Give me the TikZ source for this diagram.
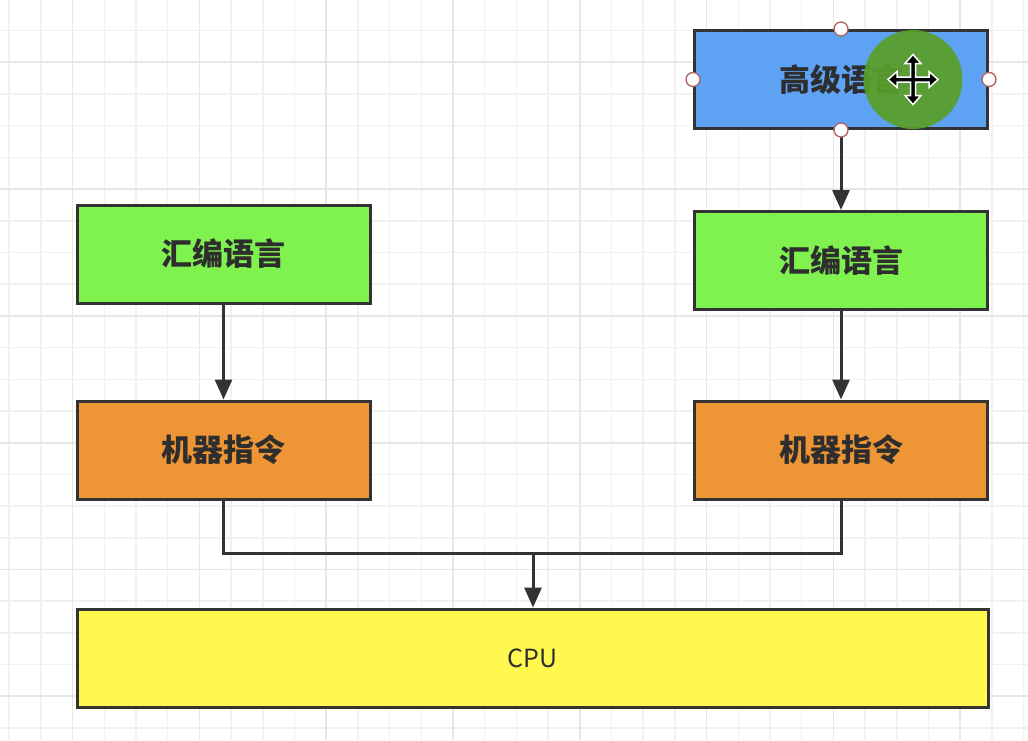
\documentclass[tikz,border=0pt]{standalone}
\usepackage{fontspec}
\newfontfamily\cjk{Noto Sans CJK SC}
\usetikzlibrary{arrows.meta}
\definecolor{gridminor}{HTML}{F1F1F1}
\definecolor{gridmajor}{HTML}{E7E7E7}
\definecolor{boxline}{HTML}{333333}
\definecolor{hlblue}{HTML}{5EA2F4}
\definecolor{asmgreen}{HTML}{80F24F}
\definecolor{mcorange}{HTML}{EE9536}
\definecolor{cpuyellow}{HTML}{FFF84E}
\definecolor{txt}{HTML}{2E2E2E}
\definecolor{handle}{HTML}{B06060}
\definecolor{ptrgreen}{HTML}{5A9E28}
\tikzset{
  box/.style={draw=boxline, line width=3pt, minimum width=293pt, minimum height=98pt,
    inner sep=0pt, font=\cjk\bfseries\fontsize{31}{36}\selectfont, text=txt},
  conn/.style={draw=boxline, line width=3pt},
  arr/.style={conn, -{Triangle[length=20pt,width=17pt]}},
  hdl/.style={circle, draw=handle, fill=white, line width=1.3pt, minimum size=14pt, inner sep=0pt},
}
\begin{document}
\begin{tikzpicture}[x=1pt,y=-1pt]
\useasboundingbox (0,0) rectangle (1028,740);
\fill[white] (0,0) rectangle (1028,740);
% grid
\foreach \i in {0,...,32} {
  \draw[gridminor, line width=1.5pt] ({9.2+31.7*\i},0) -- ({9.2+31.7*\i},740);
}
\foreach \i in {0,...,23} {
  \draw[gridminor, line width=1.5pt] (0,{-1.1+31.7*\i}) -- (1028,{-1.1+31.7*\i});
}
\foreach \i in {0,...,7} {
  \draw[gridmajor, line width=1.7pt] ({72.6+126.8*\i},0) -- ({72.6+126.8*\i},740);
}
\foreach \i in {0,...,5} {
  \draw[gridmajor, line width=1.7pt] (0,{62.3+126.8*\i}) -- (1028,{62.3+126.8*\i});
}
% boxes
\node[box, fill=hlblue] (hl) at (841,79.5) {高级语言};
\node[box, fill=asmgreen] (asmL) at (223.5,254) {汇编语言};
\node[box, fill=asmgreen] (asmR) at (841,260.5) {汇编语言};
\node[box, fill=mcorange] (mcL) at (223.5,450) {机器指令};
\node[box, fill=mcorange] (mcR) at (841,450) {机器指令};
\node[box, fill=cpuyellow, minimum width=911pt, font=\cjk\fontsize{25}{30}\selectfont] (cpu) at (532.5,658) {CPU};
% connectors
\draw[arr] (hl.south) -- (asmR.north);
\draw[arr] (asmL.south) -- (mcL.north);
\draw[arr] (asmR.south) -- (mcR.north);
\coordinate (j) at (533,553);
\draw[conn] (mcL.south) |- (j) -| (mcR.south);
\draw[arr] (j) -- (j |- cpu.north);
% pointer highlight
\fill[ptrgreen, opacity=0.92] (913,79.5) circle (49.5);
% selection handles
\node[hdl] (h1) at (hl.north) {};
\node[hdl] (h2) at (hl.south) {};
\node[hdl] (h3) at (hl.west) {};
\node[hdl] (h4) at (hl.east) {};
% move cursor
\begin{scope}[shift={(913,79.5)}]
\filldraw[fill=black, draw=white, line width=1.5pt, line join=miter]
 (25,0) -- (16,8) -- (16,2.5) -- (2.5,2.5) -- (2.5,16) -- (8,16) -- (0,25) -- (-8,16) -- (-2.5,16) -- (-2.5,2.5)
 -- (-16,2.5) -- (-16,8) -- (-25,0) -- (-16,-8) -- (-16,-2.5) -- (-2.5,-2.5) -- (-2.5,-16) -- (-8,-16)
 -- (0,-25) -- (8,-16) -- (2.5,-16) -- (2.5,-2.5) -- (16,-2.5) -- (16,-8) -- cycle;
\end{scope}
\end{tikzpicture}
\end{document}
